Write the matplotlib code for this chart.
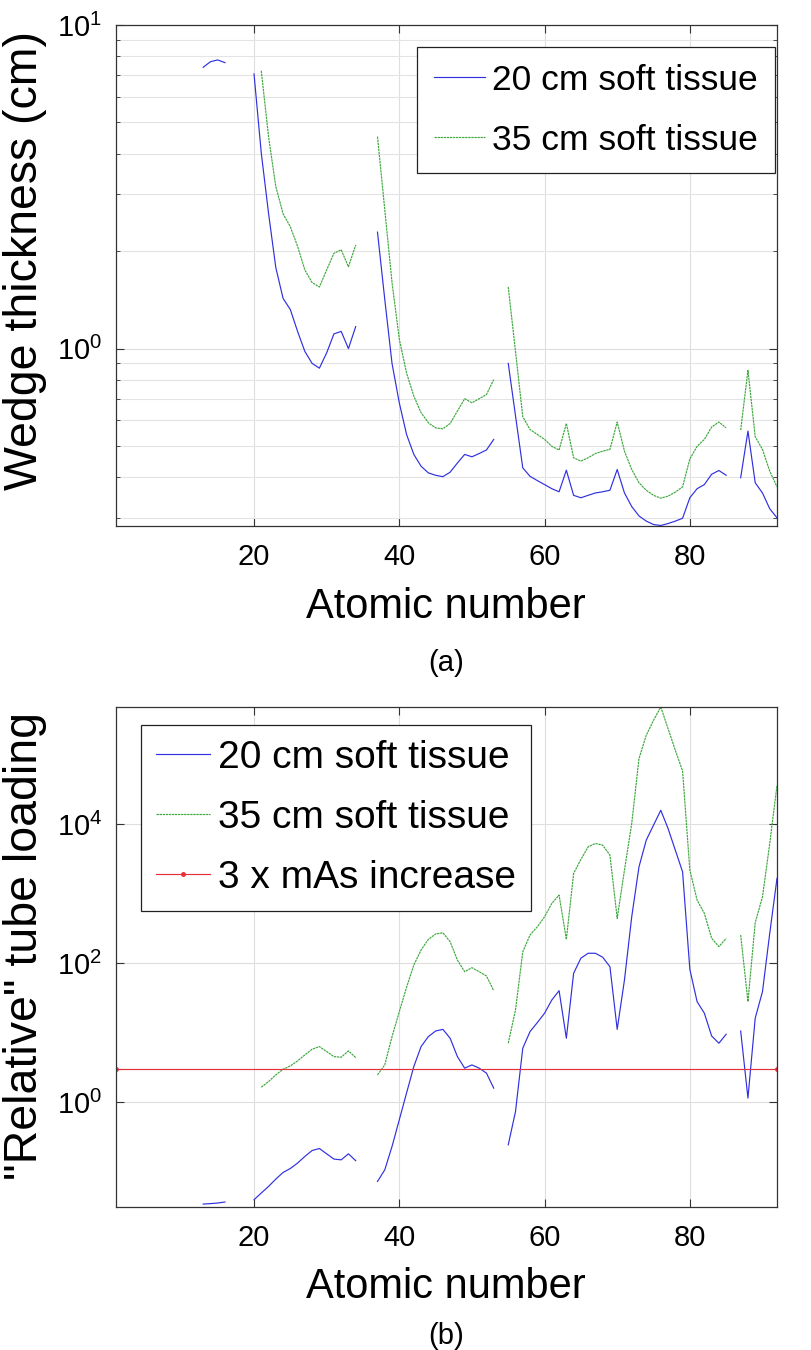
import numpy as np
import matplotlib
matplotlib.use("Agg")
import matplotlib.pyplot as plt
from matplotlib.ticker import LogLocator, NullFormatter, NullLocator, FixedLocator

plt.rcParams['font.family'] = ['Liberation Sans', 'DejaVu Sans']
plt.rcParams['mathtext.fontset'] = 'custom'
plt.rcParams['mathtext.rm'] = 'Liberation Sans'
plt.rcParams['mathtext.it'] = 'Liberation Sans:italic'

# atomic numbers 13..92, None = no value (gases / missing)
atomic = list(range(13, 93))

# (a) wedge thickness in cm
wedge_20 = [7.4, 7.7, 7.8, 7.65, None, None, None,
            7.06, 4.02, 2.62, 1.78, 1.43, 1.32, 1.13, 0.98, 0.90, 0.87, 0.97, 1.11, 1.13, 1.0, 1.17,
            None, None,
            2.29, 1.42, 0.90, 0.68, 0.543, 0.471, 0.433, 0.413, 0.406, 0.402, 0.415, 0.443, 0.471,
            0.463, 0.474, 0.486, 0.524,
            None,
            0.90, 0.62, 0.428, 0.403, 0.391, 0.380, 0.369, 0.361, 0.421, 0.352, 0.346, 0.352, 0.358,
            0.361, 0.365, 0.423, 0.358, 0.325, 0.304, 0.293, 0.286, 0.284, 0.288, 0.293, 0.299, 0.346,
            0.369, 0.380, 0.409, 0.420, 0.406,
            None,
            0.399, 0.556, 0.385, 0.358, 0.320, 0.300]
wedge_35 = [None, None, None, None, None, None, None,
            None, 7.22, 4.52, 3.17, 2.61, 2.38, 2.07, 1.75, 1.60, 1.55, 1.75, 1.97, 2.02, 1.79, 2.09,
            None, None,
            4.52, 2.69, 1.60, 1.07, 0.841, 0.713, 0.634, 0.590, 0.569, 0.565, 0.587, 0.641, 0.700,
            0.680, 0.700, 0.721, 0.802,
            None,
            1.55, 0.98, 0.616, 0.562, 0.543, 0.524, 0.499, 0.486, 0.587, 0.460, 0.449, 0.460, 0.474,
            0.482, 0.488, 0.593, 0.482, 0.423, 0.385, 0.365, 0.352, 0.345, 0.350, 0.360, 0.374, 0.456,
            0.499, 0.524, 0.572, 0.593, 0.569,
            None,
            0.560, 0.857, 0.534, 0.488, 0.418, 0.374]

# (b) relative tube loading
load_20 = [0.0345, 0.035, 0.0357, 0.0369, None, None, None,
           0.0398, 0.0497, 0.0618, 0.0788, 0.0982, 0.112, 0.134, 0.167, 0.203, 0.217, 0.182, 0.153,
           0.149, 0.182, 0.145,
           None, None,
           0.073, 0.107, 0.232, 0.561, 1.36, 3.27, 6.33, 8.81, 10.6, 11.2, 8.35, 4.55, 3.10, 3.45,
           3.10, 2.63, 1.60,
           None,
           0.245, 0.738, 6.0, 10.4, 14.0, 19.1, 29.6, 40.3, 8.35, 71.6, 118, 139, 139, 122, 89.1,
           11.2, 57.4, 465, 2430, 5870, 9640, 15800, 8650, 4220, 2060, 81.7, 28.0, 19.1, 9.01, 7.08,
           9.53,
           None,
           10.6, 1.15, 16.2, 39.0, 269, 1660]
load_35 = [None, None, None, None, None, None, None,
           None, 1.65, 1.99, 2.48, 2.99, 3.34, 3.94, 4.81, 5.80, 6.33, 5.37, 4.55, 4.45, 5.49, 4.40,
           None, None,
           2.48, 3.45, 8.81, 20.1, 45.1, 94.2, 155, 220, 263, 274, 204, 111, 75.5, 86.2, 75.5,
           65.5, 40.3,
           None,
           7.08, 21.3, 146, 254, 334, 465, 724, 953, 220, 1950, 3100, 4710, 5260, 4980, 3580, 441,
           2180, 10200, 87500, 189000, 310000, 482000, 236000, 115000, 58000, 2180, 808, 520, 228,
           173, 228,
           None,
           254, 28.0, 382, 901, 5260, 36200]

mas_x = [1, 92]
mas_y = [3, 3]

labels = ["20 cm soft tissue", "35 cm soft tissue", "3 x mAs increase"]
blue = "#3030e0"
green = "#3ea83e"
red = "#e53038"

fig = plt.figure(figsize=(8.11, 13.5), dpi=100)
ax1 = fig.add_axes([116/811, 1-526/1350, 661/811, 501/1350])
ax2 = fig.add_axes([116/811, 1-1207/1350, 661/811, 500/1350])


def to_arr(v):
    return np.array([np.nan if a is None else a for a in v], dtype=float)


def style(ax):
    ax.set_yscale("log")
    ax.set_xlim(1, 92)
    ax.set_xticks([20, 40, 60, 80])
    ax.set_axisbelow(True)
    ax.grid(True, which="major", color="#dedede", linewidth=0.8)
    ax.tick_params(which="both", direction="in", top=True, right=True,
                   labelsize=21, color="#333333")
    ax.tick_params(which="major", length=6)
    ax.tick_params(which="minor", length=3)
    ax.tick_params(axis="x", pad=12)
    ax.tick_params(axis="y", pad=10)
    for s in ax.spines.values():
        s.set_color("#333333")
        s.set_linewidth(0.9)


# ---- (a)
ax1.plot(atomic, to_arr(wedge_20), color=blue, lw=0.85, label=labels[0])
ax1.plot(atomic, to_arr(wedge_35), color=green, lw=0.85, linestyle=(0, (2, 0.6)), label=labels[1])
style(ax1)
ax1.set_ylim(0.283, 10)
ax1.yaxis.set_major_locator(LogLocator(base=10))
ax1.yaxis.set_minor_locator(LogLocator(base=10, subs=np.arange(2, 10)))
ax1.yaxis.set_minor_formatter(NullFormatter())
ax1.yaxis.grid(True, which="minor", color="#e4e4e4", linewidth=0.8)
leg1 = ax1.legend(loc="upper right", bbox_to_anchor=(0.997, 0.956), fontsize=25.5,
                  frameon=True, fancybox=False, framealpha=1, edgecolor="#222222",
                  borderpad=0.47, labelspacing=0.76, handlelength=1.45, handletextpad=0.2,
                  borderaxespad=0)
leg1.get_frame().set_linewidth(0.9)

# ---- (b)
ax2.plot(atomic, to_arr(load_20), color=blue, lw=0.85, label=labels[0])
ax2.plot(atomic, to_arr(load_35), color=green, lw=0.85, linestyle=(0, (2, 0.6)), label=labels[1])
ax2.plot(mas_x, mas_y, color=red, lw=0.85, marker=".", markersize=5, label=labels[2])
style(ax2)
ax2.set_ylim(0.0313, 4.82e5)
ax2.yaxis.set_major_locator(FixedLocator([1, 1e2, 1e4]))
ax2.yaxis.set_minor_locator(NullLocator())
leg2 = ax2.legend(loc="upper left", bbox_to_anchor=(0.038, 0.964), fontsize=28,
                  frameon=True, fancybox=False, framealpha=1, edgecolor="#222222",
                  borderpad=0.38, labelspacing=0.62, handlelength=1.4, handletextpad=0.2,
                  borderaxespad=0)
leg2.get_frame().set_linewidth(0.9)

# labels
fig.text(446/811, 1-607/1350, "Atomic number", fontsize=30, ha="center", va="center")
fig.text(446/811, 1-1287/1350, "Atomic number", fontsize=30, ha="center", va="center")
fig.text(446/811, 1-663/1350, "(a)", fontsize=21, ha="center", va="center")
fig.text(446/811, 1-1336/1350, "(b)", fontsize=21, ha="center", va="center")
fig.text(25/811, 1-260/1350, "Wedge thickness (cm)", fontsize=33.5, rotation=90,
         ha="center", va="center")
fig.text(25/811, 1-946/1350, '"Relative" tube loading', fontsize=33.5, rotation=90,
         ha="center", va="center")

fig.savefig("out.png", dpi=100)
